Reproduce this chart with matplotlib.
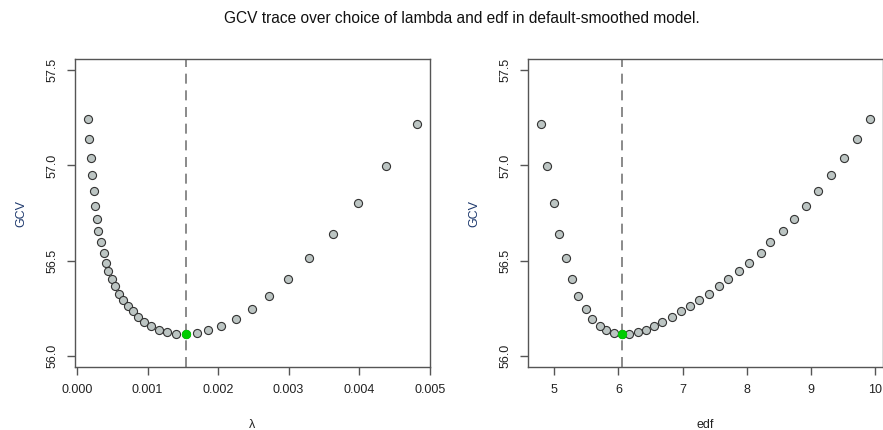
import matplotlib
matplotlib.use("Agg")
import matplotlib.pyplot as plt
from matplotlib import ticker

plt.rcParams['font.family'] = ['Liberation Sans', 'DejaVu Sans']

# smoothing parameter grid (small -> large)
lam = [0.000158, 0.000174, 0.000197, 0.000213, 0.000238, 0.000260, 0.000281,
       0.000303, 0.000336, 0.000376, 0.000411, 0.000444, 0.000492, 0.000539,
       0.000596, 0.000657, 0.000723, 0.000794, 0.000866, 0.000955, 0.00105,
       0.001163, 0.001277, 0.001404, 0.001542, 0.001698, 0.001858, 0.002043,
       0.002255, 0.002482, 0.002723, 0.002993, 0.003295, 0.003627, 0.003986,
       0.004383, 0.004818]
edf = [9.925, 9.718, 9.519, 9.312, 9.119, 8.927, 8.739, 8.563, 8.373, 8.220,
       8.033, 7.881, 7.715, 7.565, 7.409, 7.253, 7.112, 6.972, 6.832, 6.685,
       6.555, 6.431, 6.301, 6.170, 6.056, 5.927, 5.811, 5.708, 5.593, 5.490,
       5.374, 5.271, 5.183, 5.078, 4.991, 4.886, 4.793]
gcv = [57.242, 57.139, 57.038, 56.948, 56.866, 56.787, 56.718, 56.654, 56.595,
       56.539, 56.489, 56.447, 56.405, 56.365, 56.326, 56.293, 56.262, 56.232,
       56.205, 56.179, 56.156, 56.137, 56.125, 56.116, 56.113, 56.118, 56.134,
       56.156, 56.195, 56.246, 56.313, 56.404, 56.513, 56.642, 56.804, 56.995,
       57.216]
best = gcv.index(min(gcv))

fig = plt.figure(figsize=(8.83, 4.30), dpi=100)
fig.text(0.523, 0.958, "GCV trace over choice of lambda and edf in default-smoothed model.",
         ha='center', va='center', fontsize=11.2, color='#111111')

ax_w = 355 / 883
ax_h = 308 / 430
bottom = 1 - 367 / 430
axes = [fig.add_axes([75 / 883, bottom, ax_w, ax_h]),
        fig.add_axes([528 / 883, bottom, ax_w, ax_h])]


def r_style(ax, xs, xlab, xtick, fmt):
    lo, hi = min(xs), max(xs)
    pad = (hi - lo) * 0.04
    ax.set_xlim(lo - pad, hi + pad)
    ax.set_ylim(56.0 - 0.06, 57.5 + 0.06)
    ax.xaxis.set_major_locator(ticker.MultipleLocator(xtick))
    ax.xaxis.set_major_formatter(ticker.FormatStrFormatter(fmt))
    ax.yaxis.set_major_locator(ticker.MultipleLocator(0.5))
    ax.yaxis.set_major_formatter(ticker.FormatStrFormatter('%.1f'))
    for s in ax.spines.values():
        s.set_color('#555555')
        s.set_linewidth(1.0)
    ax.tick_params(colors='#555555', labelcolor='#222222', labelsize=9, length=6,
                   width=1.0, pad=6)
    for lab in ax.get_yticklabels():
        lab.set_rotation(90)
        lab.set_va('center')
    ax.set_xlabel(xlab, fontsize=9, color='#222222', labelpad=17)
    ax.set_ylabel("GCV", fontsize=9, color='#1f3a6e', labelpad=14)


for ax, xs, xlab, xtick, fmt in [(axes[0], lam, "λ", 0.001, '%.3f'),
                                 (axes[1], edf, "edf", 1, '%d')]:
    ax.axvline(xs[best], color='#777777', linestyle=(0, (6, 4)), linewidth=1.2, zorder=1)
    ax.scatter(xs, gcv, s=34, c='#bcc5c3', edgecolors='#333333', linewidths=0.8, zorder=2)
    ax.scatter([xs[best]], [gcv[best]], s=34, c='#00cc00', edgecolors='#00cc00',
               linewidths=0.8, zorder=3)
    r_style(ax, xs, xlab, xtick, fmt)

fig.savefig("out.png", dpi=100)
